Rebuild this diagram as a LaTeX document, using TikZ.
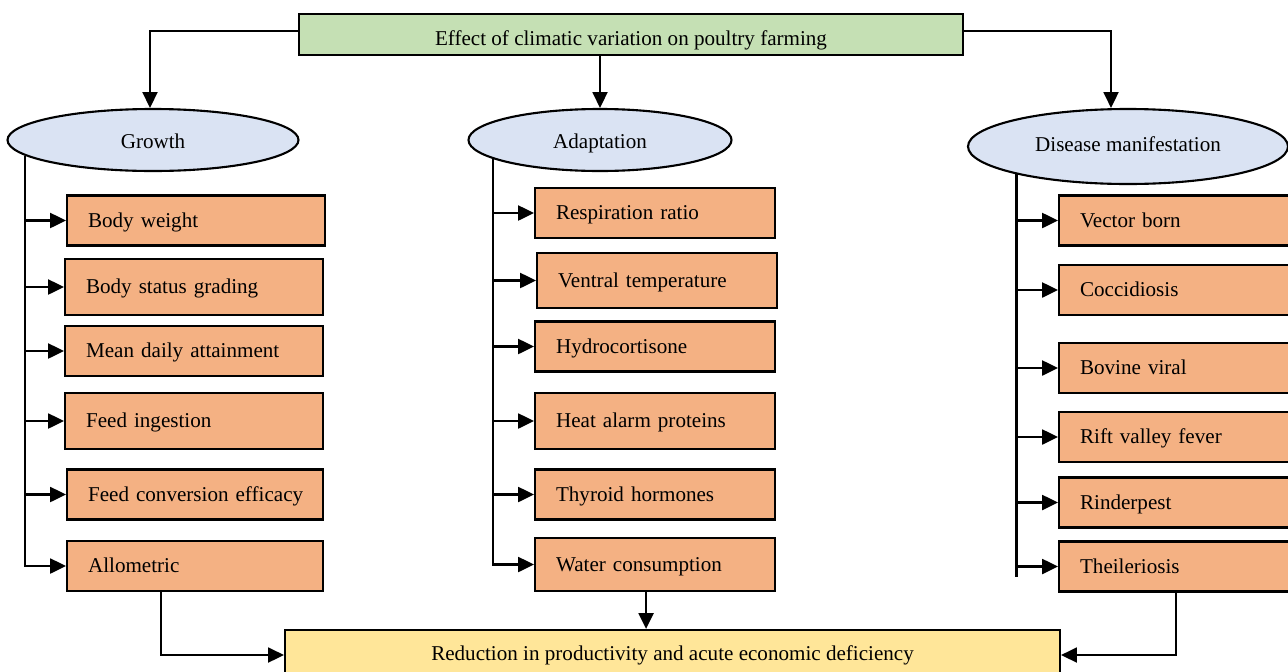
\documentclass[tikz,border=0pt]{standalone}
\usepackage{fontspec}
\setmainfont{Liberation Serif}
\usepackage{tikz}
\usetikzlibrary{shapes.geometric,arrows.meta,positioning,calc}

\definecolor{headgreen}{HTML}{C5E0B4}
\definecolor{groupblue}{HTML}{DAE3F3}
\definecolor{itemorange}{HTML}{F4B183}
\definecolor{resultyellow}{HTML}{FFE699}

\begin{document}
\begin{tikzpicture}[
    font=\fontsize{12}{14}\selectfont,
    line width=1.2pt,
    head/.style={rectangle, draw, fill=headgreen, minimum width=13.28cm, minimum height=0.82cm, text height=12pt, text depth=0pt},
    group/.style={ellipse, draw, fill=groupblue, inner sep=0pt, text height=12.7pt, text depth=2.6pt},
    item/.style={rectangle, draw, fill=itemorange, anchor=west, minimum height=1cm, inner xsep=0.42cm, align=left, text height=10.2pt, text depth=2.6pt},
    gitem/.style={item, text width=4.32cm},
    aitem/.style={item, text width=3.96cm},
    ditem/.style={item, text width=4.00cm},
    result/.style={rectangle, draw, fill=resultyellow, minimum width=15.5cm, minimum height=1cm},
    arrow/.style={-{Triangle[length=9pt,width=8.5pt]}, line width=1.2pt}
]
\clip (0,0) rectangle (25.76,-13.42);

% Title
\node[head] (head) at (12.62,-0.69) {Effect of climatic variation on poultry farming};

% Groups
\node[group, minimum width=5.82cm, minimum height=1.24cm] (growth) at (3.06,-2.80) {Growth};
\node[group, minimum width=5.26cm, minimum height=1.24cm] (adapt) at (12.00,-2.80) {Adaptation};
\node[group, minimum width=6.40cm, minimum height=1.50cm, text height=8.2pt] (disease) at (22.56,-2.93) {Disease manifestation};

% Growth items
\node[gitem] (bw) at (1.32,-4.41) {Body weight};
\node[gitem, minimum height=1.12cm] (bsg) at (1.28,-5.74) {Body status grading};
\node[gitem] (mda) at (1.28,-7.02) {Mean daily attainment};
\node[gitem, minimum height=1.12cm] (fi) at (1.28,-8.42) {Feed ingestion};
\node[gitem, text width=4.28cm] (fce) at (1.32,-9.89) {\mbox{Feed conversion efficacy}};
\node[gitem, text width=4.28cm] (allo) at (1.32,-11.32) {Allometric};

% Adaptation items
\node[aitem] (rr) at (10.68,-4.26) {Respiration ratio};
\node[aitem, minimum height=1.10cm] (vt) at (10.72,-5.61) {Ventral temperature};
\node[aitem] (hc) at (10.68,-6.93) {Hydrocortisone};
\node[aitem, minimum height=1.12cm] (hap) at (10.68,-8.42) {Heat alarm proteins};
\node[aitem] (th) at (10.68,-9.89) {Thyroid hormones};
\node[aitem, minimum height=1.06cm] (water) at (10.68,-11.29) {Water consumption};

% Disease items
\node[ditem] (vb) at (21.16,-4.41) {Vector born};
\node[ditem] (coc) at (21.16,-5.80) {Coccidiosis};
\node[ditem] (bv) at (21.16,-7.36) {Bovine viral};
\node[ditem] (rvf) at (21.16,-8.74) {Rift valley fever};
\node[ditem] (rin) at (21.16,-10.05) {Rinderpest};
\node[ditem] (theil) at (21.16,-11.33) {Theileriosis};

% Result
\node[result] (result) at (13.45,-13.10) {Reduction in productivity and acute economic deficiency};

% Arrows from title
\draw[arrow] ([yshift=0.07cm]head.west) -| ([xshift=-0.06cm]growth.north);
\draw[arrow] (adapt.north |- head.south) -- (adapt.north);
\draw[arrow] ([yshift=0.07cm]head.east) -| ([xshift=-0.34cm]disease.north);

% Growth branches
\draw[arrow] (growth.187) |- (allo.west);
\draw[arrow] (growth.187 |- bw.west) -- (bw.west);
\draw[arrow] (growth.187 |- bsg.west) -- (bsg.west);
\draw[arrow] (growth.187 |- mda.west) -- (mda.west);
\draw[arrow] (growth.187 |- fi.west) -- (fi.west);
\draw[arrow] (growth.187 |- fce.west) -- (fce.west);

% Adaptation branches
\draw[arrow] (adapt.190) |- (water.west);
\draw[arrow] (adapt.190 |- rr.west) -- (rr.west);
\draw[arrow] (adapt.190 |- vt.west) -- (vt.west);
\draw[arrow] (adapt.190 |- hc.west) -- (hc.west);
\draw[arrow] (adapt.190 |- hap.west) -- (hap.west);
\draw[arrow] (adapt.190 |- th.west) -- (th.west);

% Disease branches
\draw (disease.194) -- ([yshift=-0.2cm]disease.194 |- theil.west);
\draw[arrow] (disease.194 |- vb.west) -- (vb.west);
\draw[arrow] (disease.194 |- coc.west) -- (coc.west);
\draw[arrow] (disease.194 |- bv.west) -- (bv.west);
\draw[arrow] (disease.194 |- rvf.west) -- (rvf.west);
\draw[arrow] (disease.194 |- rin.west) -- (rin.west);
\draw[arrow] (disease.194 |- theil.west) -- (theil.west);

% Into the result
\draw[arrow] ([xshift=-0.68cm]allo.south) |- (result.west);
\draw[arrow] ([xshift=-0.18cm]water.south) -- ([xshift=-0.18cm]water.south |- result.north);
\draw[arrow] ([xshift=-0.08cm]theil.south) |- (result.east);

\end{tikzpicture}
\end{document}
